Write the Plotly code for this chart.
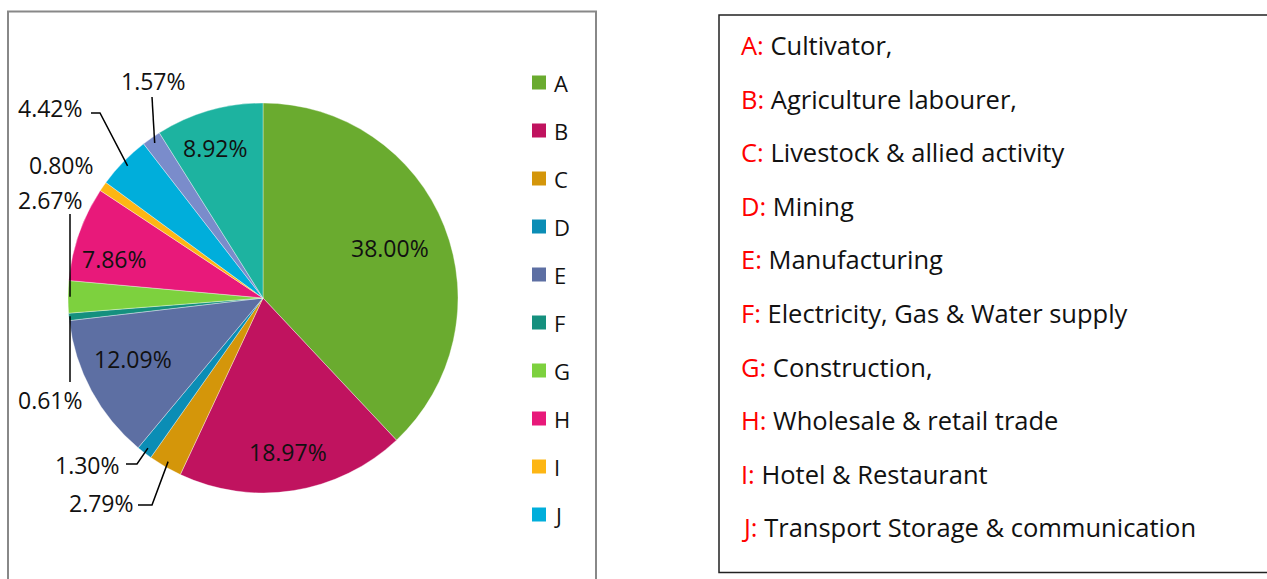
import math
import plotly.graph_objects as go

# ---------------- data ----------------
categories = ["A", "B", "C", "D", "E", "F", "G", "H", "I", "J", "K", "L"]
shares = [38.00, 18.97, 2.79, 1.30, 12.09, 0.61, 2.67, 7.86, 0.80, 4.42, 1.57, 8.92]
colors = ["#6AAB2F", "#C0135F", "#D4960A", "#0B8DB5", "#5D6FA3", "#15907E",
          "#7DD13E", "#E8197A", "#FDB614", "#00AEDB", "#7A8CCB", "#1DB3A0"]
legend_categories = categories[:10]
descriptions = ["Cultivator,", "Agriculture labourer,", "Livestock & allied activity",
                "Mining", "Manufacturing", "Electricity, Gas & Water supply",
                "Construction,", "Wholesale & retail trade", "Hotel & Restaurant",
                "Transport Storage & communication"]

# ---------------- layout (pixels) ----------------
W, H = 1267, 579
CX, CY, R = 263, 298, 195
FONT = "Open Sans"


def px(x):
    return x / W


def py(y):
    return 1 - y / H


total = sum(shares)
mid_angle = {}
cum = 0.0
for c, v in zip(categories, shares):
    mid_angle[c] = 2 * math.pi * (cum + v / 2) / total
    cum += v


def polar(c, frac):
    a = mid_angle[c]
    return CX + frac * R * math.sin(a), CY - frac * R * math.cos(a)


fig = go.Figure()
fig.add_trace(go.Pie(
    labels=categories, values=shares, sort=False, direction="clockwise", rotation=0,
    marker=dict(colors=colors, line=dict(color="rgba(255,255,255,0.6)", width=0.6)),
    textinfo="none", hoverinfo="label+percent", showlegend=False,
    domain=dict(x=[px(CX - R), px(CX + R)], y=[py(CY + R), py(CY - R)]),
))

annotations = []
shapes = []


def label(x, y, text, size, xanchor="center"):
    annotations.append(dict(x=px(x), y=py(y), xref="paper", yref="paper",
                            text=text, showarrow=False,
                            xanchor=xanchor, yanchor="middle",
                            font=dict(family=FONT, size=size, color="#111111")))


# inside labels: (radial fraction, dx, dy)
inside = {"A": (0.70, 0, 0), "B": (0.80, 0, 0), "E": (0.74, -3, -8),
          "H": (0.79, -3, 12), "L": (0.80, -4, 0)}
for c, (f, dx, dy) in inside.items():
    x, y = polar(c, f)
    v = shares[categories.index(c)]
    label(x + dx, y + dy, f"{v:.2f}%", 23)

# outside labels: text centre and elbow points of the leader line
outside = {
    "K": dict(text=(153, 81), elbow=[(152, 97)]),
    "J": dict(text=(50, 108), elbow=[(91, 113), (100, 113)]),
    "I": dict(text=(61, 165), elbow=None),
    "G": dict(text=(50, 200), elbow=[(70, 214)]),
    "F": dict(text=(50, 400), elbow=[(70, 382)]),
    "D": dict(text=(87, 465), elbow=[(126, 464), (137, 464)]),
    "C": dict(text=(101, 503), elbow=[(138, 505), (152, 505)]),
}
for c, spec in outside.items():
    v = shares[categories.index(c)]
    tx, ty = spec["text"]
    label(tx, ty, f"{v:.2f}%", 23)
    if spec["elbow"]:
        ex, ey = polar(c, 0.97)
        pts = spec["elbow"] + [(ex, ey)]
        if c in ("G", "F"):
            pts = spec["elbow"] + [(spec["elbow"][0][0], ey)]
        path = "M " + " L ".join(f"{px(x)},{py(y)}" for x, y in pts)
        shapes.append(dict(type="path", path=path, xref="paper", yref="paper",
                           line=dict(color="black", width=1.5)))

# legend (first ten categories)
for i, c in enumerate(legend_categories):
    yc = 82.5 + 48.0 * i
    shapes.append(dict(type="rect", xref="paper", yref="paper",
                       x0=px(532), x1=px(546), y0=py(yc + 7), y1=py(yc - 7),
                       fillcolor=colors[i], line=dict(width=0)))
    label(552, yc, c, 22, xanchor="left")

# chart area border
shapes.append(dict(type="rect", xref="paper", yref="paper",
                   x0=px(8), x1=px(596), y0=py(600), y1=py(11.5),
                   line=dict(color="#888888", width=2)))

# description box
shapes.append(dict(type="rect", xref="paper", yref="paper",
                   x0=px(719), x1=px(1270), y0=py(572.5), y1=py(15),
                   line=dict(color="#222222", width=1.5)))
for i, (c, d) in enumerate(zip(legend_categories, descriptions)):
    yc = 45 + 53.6 * i
    label(739, yc, f"<span style='color:#FF0000'>{c}:</span> {d}", 25.5, xanchor="left")

fig.update_layout(
    width=W, height=H, margin=dict(l=0, r=0, t=0, b=0),
    paper_bgcolor="white", plot_bgcolor="white",
    annotations=annotations, shapes=shapes,
)
fig.write_html("out.html", config={"displayModeBar": False},
               post_script="document.body.style.margin='0';document.body.style.overflow='hidden';")
